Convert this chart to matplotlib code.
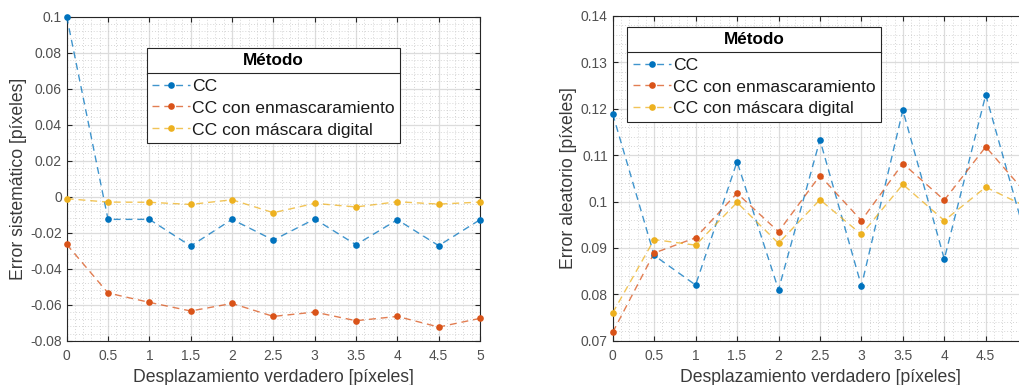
import numpy as np
import matplotlib
matplotlib.use('Agg')
from matplotlib import pyplot as plt
from matplotlib.ticker import AutoMinorLocator
from matplotlib.lines import Line2D
from matplotlib.colors import to_rgba

plt.rcParams['font.family'] = ['Liberation Sans', 'DejaVu Sans']
plt.rcParams['axes.unicode_minus'] = False

'''Data'''
desplazamiento = [0, 0.5, 1, 1.5, 2, 2.5, 3, 3.5, 4, 4.5, 5]
metodos = ['CC', 'CC con enmascaramiento', 'CC con máscara digital']
colores = ['#0072BD', '#D95319', '#EDB120']

# error sistematico [pixeles]
sis_cc = [0.1, -0.0126, -0.0126, -0.0274, -0.0126, -0.0241, -0.0124, -0.0267, -0.0128, -0.0272, -0.0128]
sis_enm = [-0.0265, -0.0535, -0.0587, -0.0635, -0.0593, -0.0665, -0.0641, -0.0689, -0.0665, -0.0724, -0.0676]
sis_dig = [-0.0011, -0.0030, -0.0031, -0.0043, -0.0017, -0.0089, -0.0037, -0.0057, -0.0028, -0.0041, -0.0030]

# error aleatorio [pixeles]
ale_cc = [0.1189, 0.0884, 0.0820, 0.1086, 0.0810, 0.1133, 0.0818, 0.1197, 0.0876, 0.1230, 0.0912]
ale_enm = [0.0718, 0.0889, 0.0922, 0.1018, 0.0935, 0.1056, 0.0959, 0.1082, 0.1003, 0.1118, 0.1015]
ale_dig = [0.0760, 0.0918, 0.0906, 0.0998, 0.0910, 0.1004, 0.0929, 0.1037, 0.0959, 0.1031, 0.0988]

xticks = [0, 0.5, 1, 1.5, 2, 2.5, 3, 3.5, 4, 4.5, 5]
xlabels = ['0', '0.5', '1', '1.5', '2', '2.5', '3', '3.5', '4', '4.5', '5']
sis_yticks = [-0.08, -0.06, -0.04, -0.02, 0, 0.02, 0.04, 0.06, 0.08, 0.1]
sis_ylabels = ['-0.08', '-0.06', '-0.04', '-0.02', '0', '0.02', '0.04', '0.06', '0.08', '0.1']
ale_yticks = [0.07, 0.08, 0.09, 0.1, 0.11, 0.12, 0.13, 0.14]
ale_ylabels = ['0.07', '0.08', '0.09', '0.1', '0.11', '0.12', '0.13', '0.14']

W, H = 1019, 385
fig = plt.figure(figsize=(W / 100, H / 100), dpi=100)
fig.patch.set_facecolor('white')

ax1 = fig.add_axes([66.7 / W, 44.3 / H, 413.3 / W, 324.0 / H])
# the right panel runs a little past the figure edge
ax2 = fig.add_axes([612.7 / W, 44.3 / H, 414.5 / W, 324.7 / H])


def style_axes(ax, yticks, ylabels, ylim, ylabel):
    ax.set_xlim(0, 5)
    ax.set_ylim(*ylim)
    ax.set_xticks(xticks)
    ax.set_xticklabels(xlabels)
    ax.set_yticks(yticks)
    ax.set_yticklabels(ylabels)
    ax.xaxis.set_minor_locator(AutoMinorLocator(5))
    ax.yaxis.set_minor_locator(AutoMinorLocator(5))
    ax.grid(which='major', color='#dcdcdc', linewidth=0.9)
    ax.grid(which='minor', color='#c8c8c8', linewidth=0.6, linestyle=(0, (1, 2.5)))
    ax.set_axisbelow(True)
    ax.tick_params(which='major', direction='in', length=3.5, width=0.8,
                   top=True, right=True, labelsize=10, labelcolor='#505050',
                   color='#262626')
    ax.tick_params(axis='x', pad=6)
    ax.tick_params(axis='y', pad=3.5)
    ax.tick_params(which='minor', length=0)
    for s in ax.spines.values():
        s.set_color('#262626')
        s.set_linewidth(0.8)
    ax.set_xlabel('Desplazamiento verdadero [píxeles]', fontsize=12.7,
                  color='#3a3a3a', labelpad=4.5)
    ax.set_ylabel(ylabel, fontsize=12.7, color='#3a3a3a', labelpad=2.5)


def plot_series(ax, series):
    for vals, nombre, c in zip(series, metodos, colores):
        ax.plot(desplazamiento, vals, linestyle=(0, (5, 3.5)), linewidth=1.0,
                color=to_rgba(c, 0.75), marker='o', markersize=4.8,
                markerfacecolor=c, markeredgewidth=0,
                label=nombre, clip_on=False, zorder=3)


def add_legend(ax, anchor):
    leg = ax.legend(title='Método', loc='upper left', bbox_to_anchor=anchor,
                    borderaxespad=0, fontsize=12.6, frameon=True, fancybox=False,
                    framealpha=1, edgecolor='#262626', handlelength=2.2,
                    handletextpad=0.1, borderpad=0.3, labelspacing=0.38,
                    title_fontproperties={'weight': 'bold', 'size': 12.3})
    leg.get_frame().set_linewidth(0.8)
    leg._legend_box.sep = 7.5  # extra room between title and entries
    for t in leg.get_texts():
        t.set_color('#1a1a1a')
    leg.set_zorder(5)
    return leg


plot_series(ax1, [sis_cc, sis_enm, sis_dig])
style_axes(ax1, sis_yticks, sis_ylabels, (-0.08, 0.1), 'Error sistemático [píxeles]')
leg1 = add_legend(ax1, (0.1936, 0.904))

plot_series(ax2, [ale_cc, ale_enm, ale_dig])
style_axes(ax2, ale_yticks, ale_ylabels, (0.07, 0.14), 'Error aleatorio [píxeles]')
ax2.get_xticklabels()[-1].set_visible(False)  # falls outside the figure
leg2 = add_legend(ax2, (0.0352, 0.967))

# line under the legend title
fig.canvas.draw()
r = fig.canvas.get_renderer()
for leg in [leg1, leg2]:
    box = leg.get_frame().get_window_extent(r)
    tb = leg.get_title().get_window_extent(r)
    fb = leg.get_texts()[0].get_window_extent(r)
    ysep = 0.5 * (tb.y0 + fb.y1)
    fig.add_artist(Line2D([box.x0 / W, box.x1 / W], [ysep / H, ysep / H],
                          transform=fig.transFigure, color='#262626',
                          linewidth=0.8, zorder=10))

fig.savefig('out.png', dpi=100, facecolor='white')
